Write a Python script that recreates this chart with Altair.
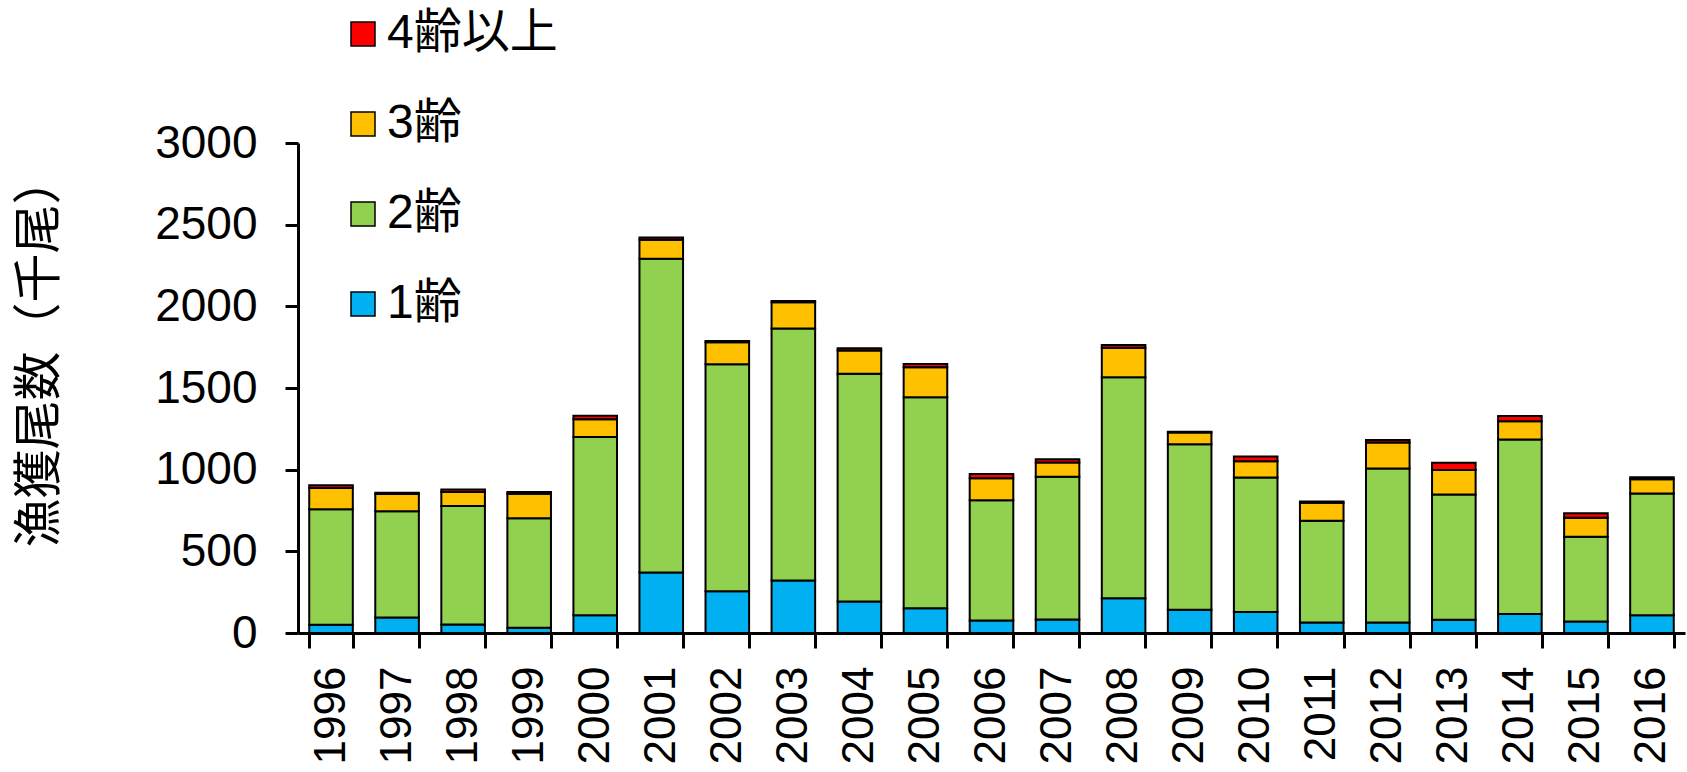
import altair as alt
import pandas as pd

years = [str(y) for y in range(1996, 2017)]
age_labels = ["1齢", "2齢", "3齢", "4齢以上"]
age1 = [51, 95, 52, 32, 108, 370, 255, 322, 193, 152, 77, 82, 213, 142, 128, 65, 65, 81, 116, 71, 108]
age2 = [706, 651, 725, 670, 1092, 1922, 1390, 1543, 1394, 1292, 736, 874, 1353, 1013, 824, 622, 942, 767, 1068, 519, 746]
age3 = [130, 105, 87, 150, 108, 115, 135, 160, 142, 183, 135, 88, 180, 72, 100, 110, 160, 150, 113, 115, 88]
age4 = [18, 8, 15, 12, 22, 15, 8, 8, 15, 20, 25, 20, 18, 5, 28, 8, 15, 45, 32, 28, 12]
colors = ["#00B0F0", "#92D050", "#FFC000", "#FF0000"]

rows = []
for i, y in enumerate(years):
    for k, series in enumerate([age1, age2, age3, age4]):
        rows.append({"year": y, "age": age_labels[k], "order": k, "value": series[i]})
df = pd.DataFrame(rows)

FONT = "Liberation Sans, Arial, Noto Sans CJK JP"

chart = alt.Chart(df).mark_bar(stroke="black", strokeWidth=2).encode(
    x=alt.X("year:N", title=None, sort=years,
            scale=alt.Scale(paddingInner=0.34, paddingOuter=0.17),
            axis=alt.Axis(labelAngle=-90, labelAlign="right", labelBaseline="middle",
                          labelFontSize=44, labelFont=FONT, labelColor="black",
                          labelPadding=18, tickSize=15, tickWidth=3, tickColor="black",
                          domainWidth=3, domainColor="black", tickBand="extent")),
    y=alt.Y("value:Q", stack="zero",
            scale=alt.Scale(domain=[0, 3000], nice=False),
            axis=alt.Axis(values=[0, 500, 1000, 1500, 2000, 2500, 3000], grid=False,
                          format="d",
                          title="漁獲尾数（千尾）", titleFont=FONT, titleFontSize=49,
                          titleFontWeight="normal", titleColor="black",
                          titleX=-259, titleY=208, titleAngle=-90,
                          titleAlign="center", titleBaseline="middle",
                          labelFontSize=46, labelFont=FONT, labelColor="black",
                          labelPadding=28, tickSize=13, tickWidth=3, tickColor="black",
                          domainWidth=3, domainColor="black")),
    color=alt.Color("age:N",
                    scale=alt.Scale(domain=["4齢以上", "3齢", "2齢", "1齢"],
                                    range=["#FF0000", "#FFC000", "#92D050", "#00B0F0"]),
                    legend=alt.Legend(title=None, orient="none", legendX=41, legendY=-133,
                                      symbolType="square", symbolSize=576,
                                      symbolStrokeColor="black", symbolStrokeWidth=1.5,
                                      symbolOpacity=1,
                                      labelFontSize=48, labelFont=FONT, labelColor="black",
                                      labelOffset=0, labelLimit=500, rowPadding=42)),
    order=alt.Order("order:Q", sort="ascending"),
).properties(
    width=1387, height=490,
    padding={"left": 298, "top": 143, "right": 2, "bottom": 139},
    autosize=alt.AutoSizeParams(type="none"),
).configure_view(stroke=None)

chart.save("out.html", embed_options={"renderer": "svg", "actions": False})
